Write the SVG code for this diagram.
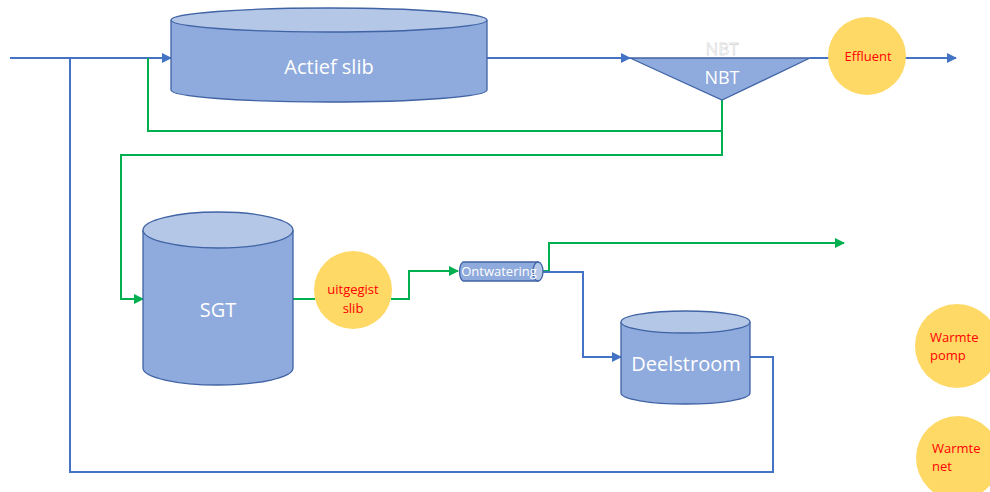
<svg xmlns="http://www.w3.org/2000/svg" width="990" height="492" viewBox="0 0 990 492">
<style>
.body{fill:#8FAADC;stroke:#3F63A4;stroke-width:1.3}
.top{fill:#B4C7E7;stroke:#3F63A4;stroke-width:1.3}
.blue{fill:none;stroke:#4472C4;stroke-width:2}
.green{fill:none;stroke:#00B050;stroke-width:2}
.wt{font-family:"Open Sans","Liberation Sans",sans-serif;fill:#FFFFFF}
.circ{fill:#FFD966}
.rt{font-family:"Open Sans","Liberation Sans",sans-serif;fill:#FF0000;font-size:13px}
</style>
<defs>
<marker id="ab" viewBox="0 0 10 10" refX="9" refY="5" markerWidth="5" markerHeight="5" orient="auto"><path d="M0,0 L10,5 L0,10 z" fill="#4472C4"/></marker>
<marker id="ag" viewBox="0 0 10 10" refX="9" refY="5" markerWidth="5" markerHeight="5" orient="auto"><path d="M0,0 L10,5 L0,10 z" fill="#00B050"/></marker>
</defs>
<g id="connectors">
<path class="blue" d="M10,58 L171,58" marker-end="url(#ab)"/>
<path class="blue" d="M487,58 L630,58" marker-end="url(#ab)"/>
<path class="blue" d="M810,58 L830,58"/>
<path class="blue" d="M902,58 L956,58" marker-end="url(#ab)"/>
<path class="blue" d="M70,58 L70,472 L773,472 L773,357 L750,357"/>
<path class="green" d="M148,58 L148,131 L722,131 L722,100"/>
<path class="green" d="M722,131 L722,155 L121,155 L121,299 L143,299" marker-end="url(#ag)"/>
<path class="green" d="M293,299 L315,299"/>
<path class="green" d="M391,299 L409,299 L409,271 L458,271" marker-end="url(#ag)"/>
<path class="green" d="M543,271 L549,271 L549,243 L844,243" marker-end="url(#ag)"/>
<path class="blue" d="M543,272 L583,272 L583,357 L621,357" marker-end="url(#ab)"/>
</g>
<g id="actief-slib">
<path class="body" d="M171,20 L171,90 A158,12 0 0 0 487,90 L487,20"/>
<ellipse class="top" cx="329" cy="20" rx="158" ry="12"/>
<text class="wt" x="329" y="74" font-size="20" text-anchor="middle">Actief slib</text>
</g>
<g id="nbt">
<polygon points="630,58 810,58 722,100" fill="#8FAADC" stroke="#3F63A4" stroke-width="1.3"/>
<text x="722" y="55" font-family="'Open Sans','Liberation Sans',sans-serif" font-size="17" fill="#FFFFFF" stroke="#B8B8B8" stroke-width="0.35" text-anchor="middle">NBT</text>
<text class="wt" x="722" y="84" font-size="18" text-anchor="middle">NBT</text>
</g>
<g id="effluent">
<circle class="circ" cx="867" cy="56" r="39"/>
<text class="rt" x="868" y="61" text-anchor="middle">Effluent</text>
</g>
<g id="sgt">
<path class="body" d="M143,230 L143,368 A75,17 0 0 0 293,368 L293,230"/>
<ellipse class="top" cx="218" cy="230" rx="75" ry="18"/>
<text class="wt" x="218" y="317" font-size="20" text-anchor="middle">SGT</text>
</g>
<g id="uitgegist-slib">
<circle class="circ" cx="353" cy="290" r="39"/>
<text class="rt" x="353" y="294" text-anchor="middle">uitgegist</text>
<text class="rt" x="353" y="313" text-anchor="middle">slib</text>
</g>
<g id="ontwatering">
<path d="M463,262 L538,262 A5,10 0 0 1 538,281 L463,281 A5,10 0 0 1 463,262 z" fill="#8FAADC" stroke="#3F63A4" stroke-width="1.3"/>
<ellipse cx="538" cy="271.5" rx="5" ry="9.5" fill="#B4C7E7" stroke="#3F63A4" stroke-width="1.3"/>
<text class="wt" x="499" y="276" font-size="13" text-anchor="middle">Ontwatering</text>
</g>
<g id="deelstroom">
<path class="body" d="M621,322 L621,393 A64.5,11 0 0 0 750,393 L750,322"/>
<ellipse class="top" cx="685.5" cy="322" rx="64.5" ry="11"/>
<text class="wt" x="686" y="371" font-size="20" text-anchor="middle">Deelstroom</text>
</g>
<g id="warmte-pomp">
<circle class="circ" cx="957" cy="346" r="42"/>
<text class="rt" x="930" y="342">Warmte</text>
<text class="rt" x="930" y="360">pomp</text>
</g>
<g id="warmte-net">
<circle class="circ" cx="958" cy="458" r="42"/>
<text class="rt" x="932" y="453">Warmte</text>
<text class="rt" x="932" y="471">net</text>
</g>
</svg>
